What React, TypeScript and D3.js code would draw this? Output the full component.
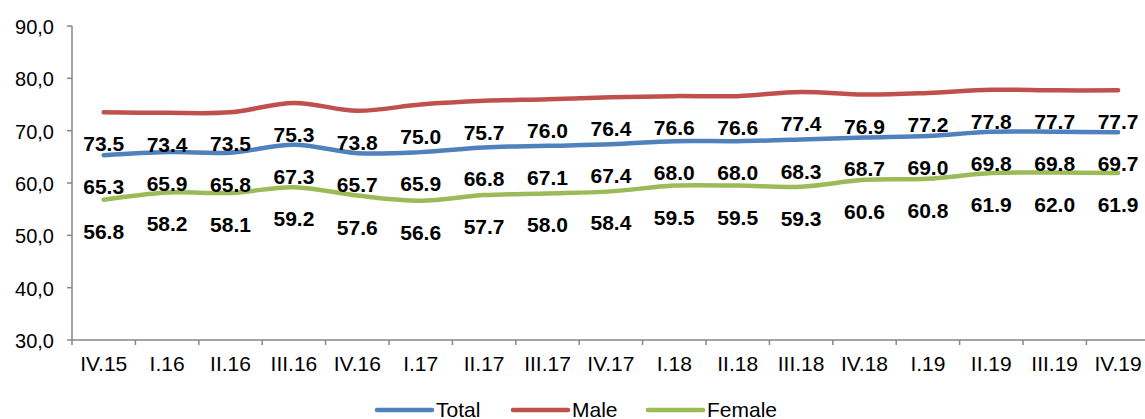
import React from 'react';
import * as d3 from 'd3';

const quarters = ['IV.15', 'I.16', 'II.16', 'III.16', 'IV.16', 'I.17', 'II.17', 'III.17', 'IV.17',
  'I.18', 'II.18', 'III.18', 'IV.18', 'I.19', 'II.19', 'III.19', 'IV.19'];

const totalValues = [65.3, 65.9, 65.8, 67.3, 65.7, 65.9, 66.8, 67.1, 67.4, 68.0, 68.0, 68.3, 68.7, 69.0, 69.8, 69.8, 69.7];
const maleValues = [73.5, 73.4, 73.5, 75.3, 73.8, 75.0, 75.7, 76.0, 76.4, 76.6, 76.6, 77.4, 76.9, 77.2, 77.8, 77.7, 77.7];
const femaleValues = [56.8, 58.2, 58.1, 59.2, 57.6, 56.6, 57.7, 58.0, 58.4, 59.5, 59.5, 59.3, 60.6, 60.8, 61.9, 62.0, 61.9];

const yTicks = [30, 40, 50, 60, 70, 80, 90];

const series = [
  { name: 'Total', values: totalValues, color: '#4F81BD' },
  { name: 'Male', values: maleValues, color: '#C0504D' },
  { name: 'Female', values: femaleValues, color: '#9BBB59' },
];

const width = 1145;
const height = 419;
const font = '"Liberation Sans", Arial, sans-serif';
const axisColor = '#868686';

export default function App() {
  const left = 72;
  const band = 63.4;

  const x = d3.scaleBand<string>()
    .domain(quarters)
    .range([left, left + band * quarters.length])
    .padding(0);

  const y = d3.scaleLinear()
    .domain([30, 90])
    .range([340, 26]);

  const fmt = (v: number) => d3.format('.1f')(v).replace('.', ',');
  const cx = (q: string) => (x(q) as number) + x.bandwidth() / 2;

  // Excel-style smoothed lines
  const line = d3.line<number>()
    .x((_, i) => cx(quarters[i]))
    .y(d => y(d))
    .curve(d3.curveCatmullRom.alpha(0.5));

  const bottom = y(30);
  const boundaries = quarters.map(q => x(q) as number).concat([x.range()[1]]);

  const legendItems = [
    { x0: 377, tx: 436 },
    { x0: 513, tx: 572 },
    { x0: 648, tx: 707 },
  ];

  return (
    <div style={{ position: 'absolute', left: 0, top: 0 }}>
      <svg width={width} height={height} style={{ display: 'block', background: '#fff' }}>
        {/* y axis */}
        <line x1={left} x2={left} y1={y(90)} y2={bottom} stroke={axisColor} strokeWidth={1.5} />
        {yTicks.map(t => (
          <g key={t}>
            <line x1={left - 5} x2={left} y1={y(t)} y2={y(t)} stroke={axisColor} strokeWidth={1.5} />
            <text x={54} y={y(t) + 8} textAnchor="end" fontFamily={font} fontSize={20} fill="#000">
              {fmt(t)}
            </text>
          </g>
        ))}

        {/* x axis */}
        <line x1={left} x2={width} y1={bottom} y2={bottom} stroke={axisColor} strokeWidth={1.5} />
        {boundaries.map((b, i) => (
          <line key={i} x1={b} x2={b} y1={bottom} y2={bottom + 5} stroke={axisColor} strokeWidth={1.5} />
        ))}
        {quarters.map(q => (
          <text key={q} x={cx(q)} y={371} textAnchor="middle" fontFamily={font} fontSize={21} fill="#000">
            {q}
          </text>
        ))}

        {/* lines */}
        {series.map(s => (
          <path key={s.name} d={line(s.values) || ''} fill="none" stroke={s.color}
            strokeWidth={4.5} strokeLinecap="round" strokeLinejoin="round" />
        ))}

        {/* data labels, below each point */}
        {series.map(s => s.values.map((v, i) => (
          <text key={`${s.name}-${i}`} x={cx(quarters[i])} y={y(v) + 39} textAnchor="middle"
            fontFamily={font} fontSize={21} fontWeight="bold" fill="#000">
            {v.toFixed(1)}
          </text>
        )))}

        {/* legend */}
        {series.map((s, i) => (
          <g key={s.name}>
            <line x1={legendItems[i].x0} x2={legendItems[i].x0 + 55} y1={410} y2={410}
              stroke={s.color} strokeWidth={4.5} strokeLinecap="round" />
            <text x={legendItems[i].tx} y={417} fontFamily={font} fontSize={21} fill="#000">{s.name}</text>
          </g>
        ))}
      </svg>
    </div>
  );
}
